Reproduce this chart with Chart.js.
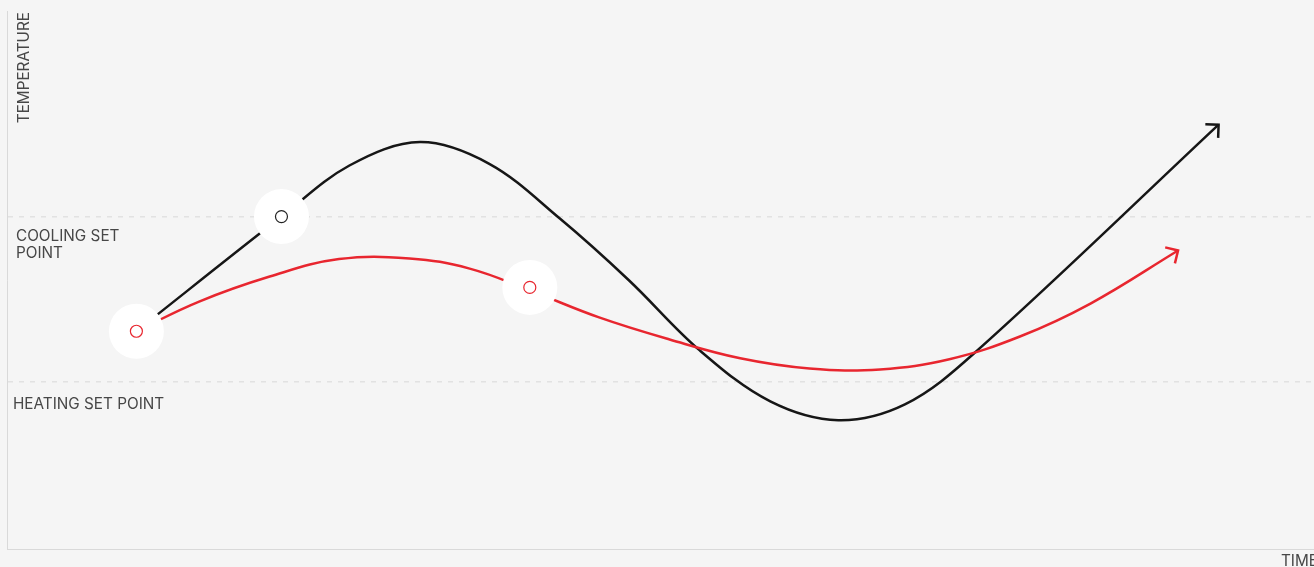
<!DOCTYPE html>
<html>
<head>
<meta charset="utf-8">
<script src="https://cdn.jsdelivr.net/npm/chart.js@4/dist/chart.umd.min.js"></script>
<style>
  html, body { margin: 0; padding: 0; background: #f5f5f5; }
  #wrap { width: 1314px; height: 567px; position: relative; }
</style>
</head>
<body>
<div id="wrap"><canvas id="grafica"></canvas></div>
<script>
// valores (tiempo 0-100, temperatura en grados)
const tiempoNegro = [9.9, 21.0, 26.2, 31.6, 36.9, 42.3, 47.6, 53.0, 58.4, 63.6, 68.7, 74.0, 92.7];
const tempNegro   = [21.52, 25.0, 26.55, 27.26, 26.6, 24.94, 23.06, 20.94, 19.39, 18.82, 19.3, 20.85, 27.79];

const tiempoRojo = [9.9, 14.7, 20.1, 25.4, 30.8, 35.4, 40.0, 45.3, 50.7, 56.1, 61.4, 66.8, 72.1, 77.5, 82.9, 89.6];
const tempRojo   = [21.52, 22.42, 23.18, 23.71, 23.73, 23.42, 22.76, 21.94, 21.27, 20.7, 20.39, 20.36, 20.67, 21.36, 22.36, 23.97];

const marcaNegroTiempo = [21.0];
const marcaNegroTemp   = [25.0];
const marcaRojoTiempo  = [9.9, 40.0];
const marcaRojoTemp    = [21.52, 22.85];

const puntosAjuste = [20, 25];            // calefaccion, enfriamiento
const etiquetasAjuste = [['HEATING SET POINT'], ['COOLING SET', 'POINT']];
const tituloY = 'TEMPERATURE';
const tituloX = 'TIME';

const NEGRO = '#161616';
const ROJO = '#e8262f';
const TEXTO = '#474747';
const FUENTE = '15.3px Inter, "Noto Sans", sans-serif';

const pares = (xs, ys) => xs.map((x, i) => ({ x: x, y: ys[i] }));

const halos = pares(marcaRojoTiempo, marcaRojoTemp).concat(pares(marcaNegroTiempo, marcaNegroTemp));

// flechas al final de cada linea + textos
const extras = {
  id: 'extras',
  afterDatasetsDraw(chart) {
    const ctx = chart.ctx;
    [2, 3].forEach(function (idx) {
      const meta = chart.getDatasetMeta(idx);
      const pts = meta.data;
      const fin = pts[pts.length - 1];
      const ant = pts[pts.length - 2];
      const ang = Math.atan2(fin.y - fin.cp1y, fin.x - fin.cp1x) || Math.atan2(fin.y - ant.y, fin.x - ant.x);
      const largo = 12;
      ctx.save();
      ctx.strokeStyle = chart.data.datasets[idx].borderColor;
      ctx.lineWidth = 2.5;
      ctx.lineCap = 'square';
      ctx.beginPath();
      ctx.moveTo(fin.x + largo * Math.cos(ang + Math.PI - Math.PI / 4), fin.y + largo * Math.sin(ang + Math.PI - Math.PI / 4));
      ctx.lineTo(fin.x, fin.y);
      ctx.lineTo(fin.x + largo * Math.cos(ang + Math.PI + Math.PI / 4), fin.y + largo * Math.sin(ang + Math.PI + Math.PI / 4));
      ctx.stroke();
      ctx.restore();
    });
  },
  afterDraw(chart) {
    const ctx = chart.ctx;
    const y = chart.scales.y;
    const area = chart.chartArea;
    ctx.save();
    ctx.fillStyle = TEXTO;
    ctx.font = FUENTE;
    ctx.textBaseline = 'alphabetic';
    // calefaccion
    let py = y.getPixelForValue(puntosAjuste[0]);
    ctx.textAlign = 'left';
    ctx.fillText(etiquetasAjuste[0][0], area.left + 6, py + 28);
    // enfriamiento
    py = y.getPixelForValue(puntosAjuste[1]);
    ctx.fillText(etiquetasAjuste[1][0], area.left + 9, py + 24.5);
    ctx.fillText(etiquetasAjuste[1][1], area.left + 9, py + 41);
    // titulo eje y
    ctx.save();
    ctx.translate(area.left + 21.5, area.top + 1);
    ctx.rotate(-Math.PI / 2);
    ctx.textAlign = 'right';
    ctx.fillText(tituloY, 0, 0);
    ctx.restore();
    // titulo eje x
    ctx.textAlign = 'left';
    ctx.fillText(tituloX, 1281, area.bottom + 16.5);
    ctx.restore();
  }
};

const ctx = document.getElementById('grafica').getContext('2d');
new Chart(ctx, {
  type: 'line',
  data: {
    datasets: [
      { label: 'marca negro', data: pares(marcaNegroTiempo, marcaNegroTemp), showLine: false, order: 0,
        pointRadius: 6, pointBackgroundColor: '#ffffff', pointBorderColor: '#222222', pointBorderWidth: 1.2 },
      { label: 'marca rojo', data: pares(marcaRojoTiempo, marcaRojoTemp), showLine: false, order: 0,
        pointRadius: 6, pointBackgroundColor: '#ffffff', pointBorderColor: ROJO, pointBorderWidth: 1.2 },
      { label: 'rojo', data: pares(tiempoRojo, tempRojo), order: 2, borderColor: ROJO, borderWidth: 2.5,
        pointRadius: 0, tension: 0.4, fill: false },
      { label: 'negro', data: pares(tiempoNegro, tempNegro), order: 3, borderColor: NEGRO, borderWidth: 2.5,
        pointRadius: 0, tension: 0.35, fill: false },
      { label: 'halo', data: halos, showLine: false, order: 1,
        pointRadius: 27.5, pointBackgroundColor: '#ffffff', pointBorderWidth: 0 }
    ]
  },
  options: {
    responsive: true,
    maintainAspectRatio: false,
    animation: false,
    events: [],
    layout: { autoPadding: false, padding: { left: 7, top: 11, right: 0, bottom: 10 } },
    plugins: { legend: { display: false }, tooltip: { enabled: false } },
    scales: {
      x: {
        type: 'linear', min: 0, max: 100,
        grid: { display: false },
        border: { display: true, color: '#d9d9d9', width: 1 },
        ticks: { display: false }
      },
      y: {
        type: 'linear', min: 14.91, max: 31.24,
        afterBuildTicks: function (eje) { eje.ticks = puntosAjuste.map(v => ({ value: v })); },
        grid: { color: '#e2e2e2', lineWidth: 1.5, drawTicks: false },
        border: { display: true, color: '#d9d9d9', width: 1, dash: [5, 6] },
        ticks: { display: false }
      }
    }
  },
  plugins: [extras]
});
</script>
</body>
</html>
